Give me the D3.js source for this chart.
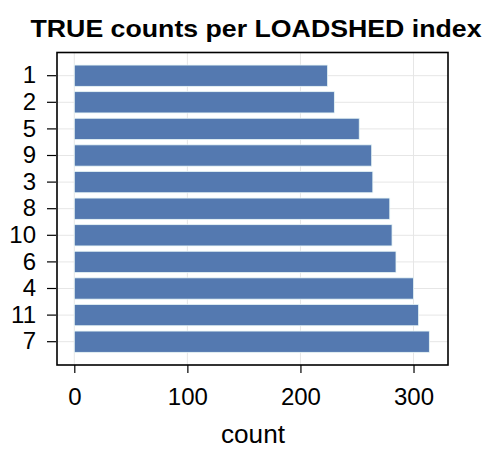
<!DOCTYPE html>
<html lang="en">
<head>
  <meta charset="utf-8">
  <script src="https://cdn.jsdelivr.net/npm/d3@7"></script>
  <style>
    body { margin: 0; background: #fff; }
    text { font-family: "Liberation Sans", Arial, sans-serif; fill: #000; }
  </style>
</head>
<body>
  <script>
    // categories top to bottom, with counts
    var categories = ["1", "2", "5", "9", "3", "8", "10", "6", "4", "11", "7"];
    var counts = [224, 230, 252, 263, 264, 279, 281, 284.5, 300, 304.5, 314];
    var xTicks = [0, 100, 200, 300];

    var w = 494, h = 458;
    var panel = { left: 57, right: 448, top: 52.5, bottom: 365 };

    var svg = d3.select("body").append("svg")
      .attr("width", w)
      .attr("height", h);

    var xScale = d3.scaleLinear()
      .domain([-15.3, 330.5])
      .range([panel.left, panel.right]);

    var yScale = d3.scaleBand()
      .domain(categories)
      .range([62.4, 355])
      .paddingInner(0.2)
      .paddingOuter(0.1);

    // grid
    svg.append("g").selectAll("line")
      .data(xTicks)
      .enter().append("line")
      .attr("x1", d => xScale(d)).attr("x2", d => xScale(d))
      .attr("y1", panel.top).attr("y2", panel.bottom)
      .attr("stroke", "#e6e6e6").attr("stroke-width", 1);

    svg.append("g").selectAll("line")
      .data(categories)
      .enter().append("line")
      .attr("x1", panel.left).attr("x2", panel.right)
      .attr("y1", d => yScale(d) + yScale.bandwidth() / 2)
      .attr("y2", d => yScale(d) + yScale.bandwidth() / 2)
      .attr("stroke", "#e6e6e6").attr("stroke-width", 1);

    // bars
    svg.append("g").selectAll("rect")
      .data(categories)
      .enter().append("rect")
      .attr("x", xScale(0))
      .attr("y", d => yScale(d))
      .attr("width", (d, i) => xScale(counts[i]) - xScale(0))
      .attr("height", yScale.bandwidth())
      .attr("fill", "#5479b0")
      .attr("stroke", "#e8f6f6")
      .attr("stroke-width", 0.8);

    // panel box
    svg.append("rect")
      .attr("x", panel.left).attr("y", panel.top)
      .attr("width", panel.right - panel.left)
      .attr("height", panel.bottom - panel.top)
      .attr("fill", "none")
      .attr("stroke", "#000")
      .attr("stroke-width", 1.6);

    // axes
    var xAxis = d3.axisBottom(xScale).tickValues(xTicks).tickSize(8).tickPadding(15);
    var gx = svg.append("g")
      .attr("transform", "translate(0," + panel.bottom + ")")
      .call(xAxis);
    gx.select(".domain").remove();
    gx.selectAll("line").attr("stroke", "#000").attr("stroke-width", 1.2);
    gx.selectAll("text").style("font-size", "24px").attr("dy", "0.71em");

    var yAxis = d3.axisLeft(yScale).tickSize(9).tickPadding(11);
    var gy = svg.append("g")
      .attr("transform", "translate(" + (panel.left - 1) + ",0)")
      .call(yAxis);
    gy.select(".domain").remove();
    gy.selectAll("line").attr("stroke", "#000").attr("stroke-width", 1.2);
    gy.selectAll("text").style("font-size", "24px");

    svg.append("text")
      .attr("x", 253)
      .attr("y", 443)
      .attr("text-anchor", "middle")
      .style("font-size", "25px")
      .attr("textLength", 64)
      .attr("lengthAdjust", "spacingAndGlyphs")
      .text("count");

    svg.append("text")
      .attr("x", 256)
      .attr("y", 37)
      .attr("text-anchor", "middle")
      .style("font-size", "24px")
      .style("font-weight", "bold")
      .attr("textLength", 451)
      .attr("lengthAdjust", "spacingAndGlyphs")
      .text("TRUE counts per LOADSHED index");
  </script>
</body>
</html>
